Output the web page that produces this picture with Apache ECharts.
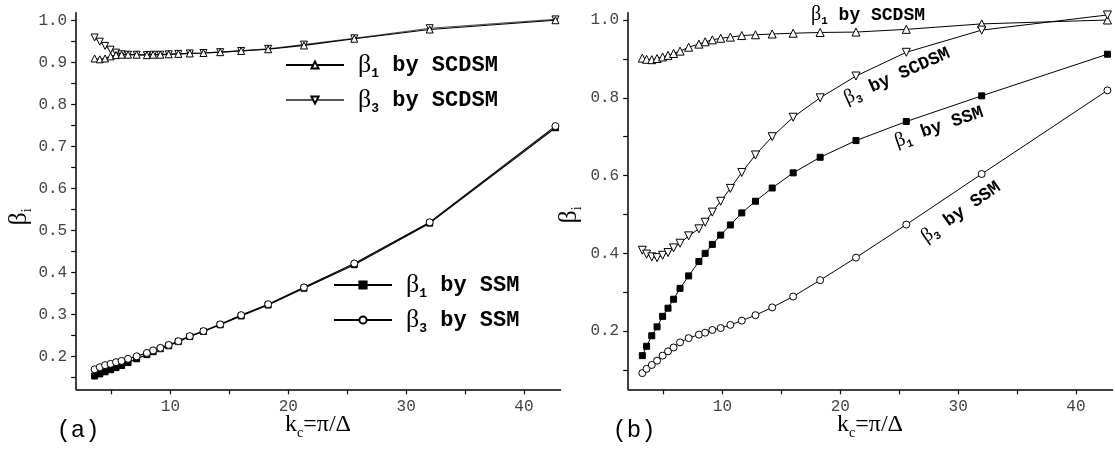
<!DOCTYPE html>
<html><head><meta charset="utf-8">
<script src="https://cdn.jsdelivr.net/npm/echarts@6/dist/echarts.min.js"></script>
<style>html,body{margin:0;padding:0;background:#fff}#c{width:1115px;height:451px}</style>
</head><body><div id="c"></div>
<script>
// ---- data ----
const kA = [3.56, 4.0, 4.45, 4.92, 5.38, 5.85, 6.4, 7.13, 8.0, 8.53, 9.14, 9.85, 10.67, 11.64, 12.8, 14.22, 16.0, 18.29, 21.33, 25.6, 32.0, 42.67];
const kB = [3.2, 3.56, 4.0, 4.45, 4.92, 5.38, 5.85, 6.4, 7.13, 8.0, 8.53, 9.14, 9.85, 10.67, 11.64, 12.8, 14.22, 16.0, 18.29, 21.33, 25.6, 32.0, 42.67];

const a_b1_scdsm = [0.910, 0.908, 0.910, 0.915, 0.918, 0.919, 0.919, 0.919, 0.918, 0.919, 0.919, 0.920, 0.921, 0.922, 0.923, 0.925, 0.928, 0.932, 0.941, 0.957, 0.979, 1.001];
const a_b3_scdsm = [0.960, 0.950, 0.940, 0.931, 0.924, 0.920, 0.919, 0.919, 0.918, 0.919, 0.919, 0.920, 0.921, 0.922, 0.923, 0.925, 0.928, 0.933, 0.943, 0.958, 0.982, 1.003];
const a_b1_ssm = [0.154, 0.159, 0.164, 0.169, 0.174, 0.179, 0.186, 0.195, 0.205, 0.212, 0.219, 0.226, 0.236, 0.248, 0.260, 0.276, 0.297, 0.323, 0.363, 0.419, 0.518, 0.745];
const a_b3_ssm = [0.170, 0.175, 0.180, 0.183, 0.187, 0.190, 0.195, 0.201, 0.209, 0.215, 0.221, 0.228, 0.237, 0.249, 0.261, 0.277, 0.299, 0.325, 0.365, 0.422, 0.520, 0.749];

const b_b1_scdsm = [0.902, 0.899, 0.898, 0.901, 0.905, 0.909, 0.914, 0.920, 0.930, 0.938, 0.944, 0.949, 0.953, 0.956, 0.960, 0.962, 0.964, 0.966, 0.968, 0.969, 0.976, 0.990, 1.000];
const b_b3_scdsm = [0.408, 0.398, 0.391, 0.389, 0.395, 0.402, 0.414, 0.426, 0.445, 0.463, 0.480, 0.506, 0.534, 0.567, 0.608, 0.653, 0.700, 0.750, 0.800, 0.856, 0.917, 0.974, 1.013];
const b_b1_ssm = [0.137, 0.161, 0.188, 0.211, 0.238, 0.259, 0.282, 0.310, 0.342, 0.379, 0.400, 0.423, 0.447, 0.473, 0.504, 0.534, 0.568, 0.607, 0.647, 0.690, 0.739, 0.805, 0.912];
const b_b3_ssm = [0.092, 0.103, 0.113, 0.124, 0.137, 0.148, 0.158, 0.171, 0.182, 0.191, 0.196, 0.203, 0.208, 0.216, 0.227, 0.241, 0.261, 0.289, 0.331, 0.389, 0.474, 0.604, 0.819];

const xTicks = [5, 10, 15, 20, 25, 30, 35, 40];
const xLabels = [10, 20, 30, 40];
const aYTicks = [0.15, 0.2, 0.25, 0.3, 0.35, 0.4, 0.45, 0.5, 0.55, 0.6, 0.65, 0.7, 0.75, 0.8, 0.85, 0.9, 0.95, 1.0];
const aYLabels = [0.2, 0.3, 0.4, 0.5, 0.6, 0.7, 0.8, 0.9, 1.0];
const bYTicks = [0.1, 0.2, 0.3, 0.4, 0.5, 0.6, 0.7, 0.8, 0.9, 1.0];
const bYLabels = [0.2, 0.4, 0.6, 0.8, 1.0];

// ---- styling ----
const SERIF = "'Liberation Serif','DejaVu Serif',serif";
const MONO = "'Liberation Mono','DejaVu Sans Mono',monospace";

function pairs(xs, ys) { return xs.map((x, i) => [x, ys[i]]); }

const chart = echarts.init(document.getElementById('c'), null, {renderer: 'canvas'});

function xAxisCfg(gi) {
  return {
    type: 'value', gridIndex: gi, min: 2, max: 43.1,
    axisLine: {lineStyle: {color: '#000', width: 1.5}},
    axisTick: {show: true, inside: false, length: 5, lineStyle: {color: '#000', width: 1.2}, customValues: xTicks},
    axisLabel: {customValues: xLabels, margin: 9, fontFamily: MONO, fontSize: 16, color: '#444', formatter: v => String(v)},
    splitLine: {show: false}
  };
}
function yAxisCfg(gi, min, max, ticks, labels) {
  return {
    type: 'value', gridIndex: gi, min: min, max: max,
    axisLine: {show: true, lineStyle: {color: '#000', width: 1.5}},
    axisTick: {show: true, inside: false, length: 5, lineStyle: {color: '#000', width: 1.2}, customValues: ticks},
    axisLabel: {customValues: labels, margin: 9, fontFamily: MONO, fontSize: 16, color: '#444', formatter: v => v.toFixed(1)},
    splitLine: {show: false}
  };
}
function lineSeries(name, gi, xs, ys, sym, opts) {
  opts = opts || {};
  return {
    name: name, type: 'line', xAxisIndex: gi, yAxisIndex: gi,
    data: pairs(xs, ys),
    symbol: sym, symbolSize: opts.size || 7, symbolRotate: opts.rot || 0,
    showAllSymbol: true, animation: false,
    lineStyle: {color: opts.lineColor || '#000', width: opts.lw || 1},
    itemStyle: {color: opts.fill || '#fff', borderColor: '#000', borderWidth: 1, opacity: 1},
    z: opts.z || 2
  };
}

const legRich = {
  g: {fontFamily: SERIF, fontSize: 26, lineHeight: 30, padding: [0, 0, 0, 9], color: '#000'},
  s: {fontFamily: MONO, fontWeight: 'bold', fontSize: 13, lineHeight: 14, verticalAlign: 'bottom', color: '#000'},
  t: {fontFamily: MONO, fontWeight: 'bold', fontSize: 22, lineHeight: 30, color: '#000'}
};
const legNames = {
  'a1c': '{g|β}{s|1}{t| by SCDSM}',
  'a3c': '{g|β}{s|3}{t| by SCDSM}',
  'a1s': '{g|β}{s|1}{t| by SSM}',
  'a3s': '{g|β}{s|3}{t| by SSM}'
};
function legendCfg(names, left, top) {
  return {
    data: names, orient: 'vertical', left: left, top: top,
    itemWidth: 58, itemHeight: 9, itemGap: 7, selectedMode: false,
    formatter: n => legNames[n], textStyle: {rich: legRich, color: '#000'}
  };
}

const annRich = {
  g: {fontFamily: SERIF, fontSize: 20, lineHeight: 24, color: '#000'},
  s: {fontFamily: MONO, fontWeight: 'bold', fontSize: 11, lineHeight: 12, verticalAlign: 'bottom', color: '#000'},
  t: {fontFamily: MONO, fontWeight: 'bold', fontSize: 18, lineHeight: 24, color: '#000'}
};
const axRich = {
  g: {fontFamily: SERIF, fontSize: 26, lineHeight: 30, color: '#000'},
  s: {fontFamily: SERIF, fontSize: 14, lineHeight: 14, verticalAlign: 'bottom', color: '#000'},
  k: {fontFamily: SERIF, fontSize: 24, lineHeight: 30, color: '#000'}
};
function txt(x, y, text, rich, rot, align) {
  return {type: 'text', x: x, y: y, rotation: rot || 0, z: 10,
    style: {text: text, rich: rich, align: align || 'center', verticalAlign: 'middle', fill: '#000'}};
}

const option = {
  backgroundColor: '#fff',
  animation: false,
  grid: [
    {left: 76.2, top: 12.7, width: 484.3, height: 376.6},
    {left: 628.2, top: 12.7, width: 484.3, height: 376.6}
  ],
  xAxis: [xAxisCfg(0), xAxisCfg(1)],
  yAxis: [
    yAxisCfg(0, 0.1224, 1.019, aYTicks, aYLabels),
    yAxisCfg(1, 0.0504, 1.0188, bYTicks, bYLabels)
  ],
  legend: [
    legendCfg(['a1c', 'a3c'], 280, 47),
    legendCfg(['a1s', 'a3s'], 328, 267)
  ],
  series: [
    lineSeries('a3c', 0, kA, a_b3_scdsm, 'triangle', {rot: 180, lineColor: '#555', lw: 1.2}),
    lineSeries('a1c', 0, kA, a_b1_scdsm, 'triangle', {lw: 1.2}),
    lineSeries('a1s', 0, kA, a_b1_ssm, 'rect', {fill: '#000', size: 6, lw: 1.2}),
    lineSeries('a3s', 0, kA, a_b3_ssm, 'circle', {lw: 1.2, z: 3}),
    lineSeries('b1c', 1, kB, b_b1_scdsm, 'triangle', {size: 8}),
    lineSeries('b3c', 1, kB, b_b3_scdsm, 'triangle', {rot: 180, size: 8}),
    lineSeries('b1s', 1, kB, b_b1_ssm, 'rect', {fill: '#000', size: 6}),
    lineSeries('b3s', 1, kB, b_b3_ssm, 'circle', {size: 7})
  ],
  graphic: [
    txt(19, 217, '{g|β}{s|i}', axRich, Math.PI / 2),
    txt(569, 215, '{g|β}{s|i}', axRich, Math.PI / 2),
    txt(318, 425, '{k|k}{s|c}{k|=π/Δ}', axRich, 0),
    txt(870, 425, '{k|k}{s|c}{k|=π/Δ}', axRich, 0),
    {type: 'text', x: 78, y: 431, z: 10, style: {text: '(a)', font: "24px " + MONO, fill: '#000', align: 'center', verticalAlign: 'middle'}},
    {type: 'text', x: 634, y: 431, z: 10, style: {text: '(b)', font: "24px " + MONO, fill: '#000', align: 'center', verticalAlign: 'middle'}},
    txt(811, 15, '{g|β}{s|1}{t| by SCDSM}', annRich, 0, 'left'),
    txt(897, 76, '{g|β}{s|3}{t| by SCDSM}', annRich, 0.42),
    txt(939, 127, '{g|β}{s|1}{t| by SSM}', annRich, 0.33),
    txt(961, 212, '{g|β}{s|3}{t| by SSM}', annRich, 0.61)
  ]
};
chart.setOption(option);
</script></body></html>
